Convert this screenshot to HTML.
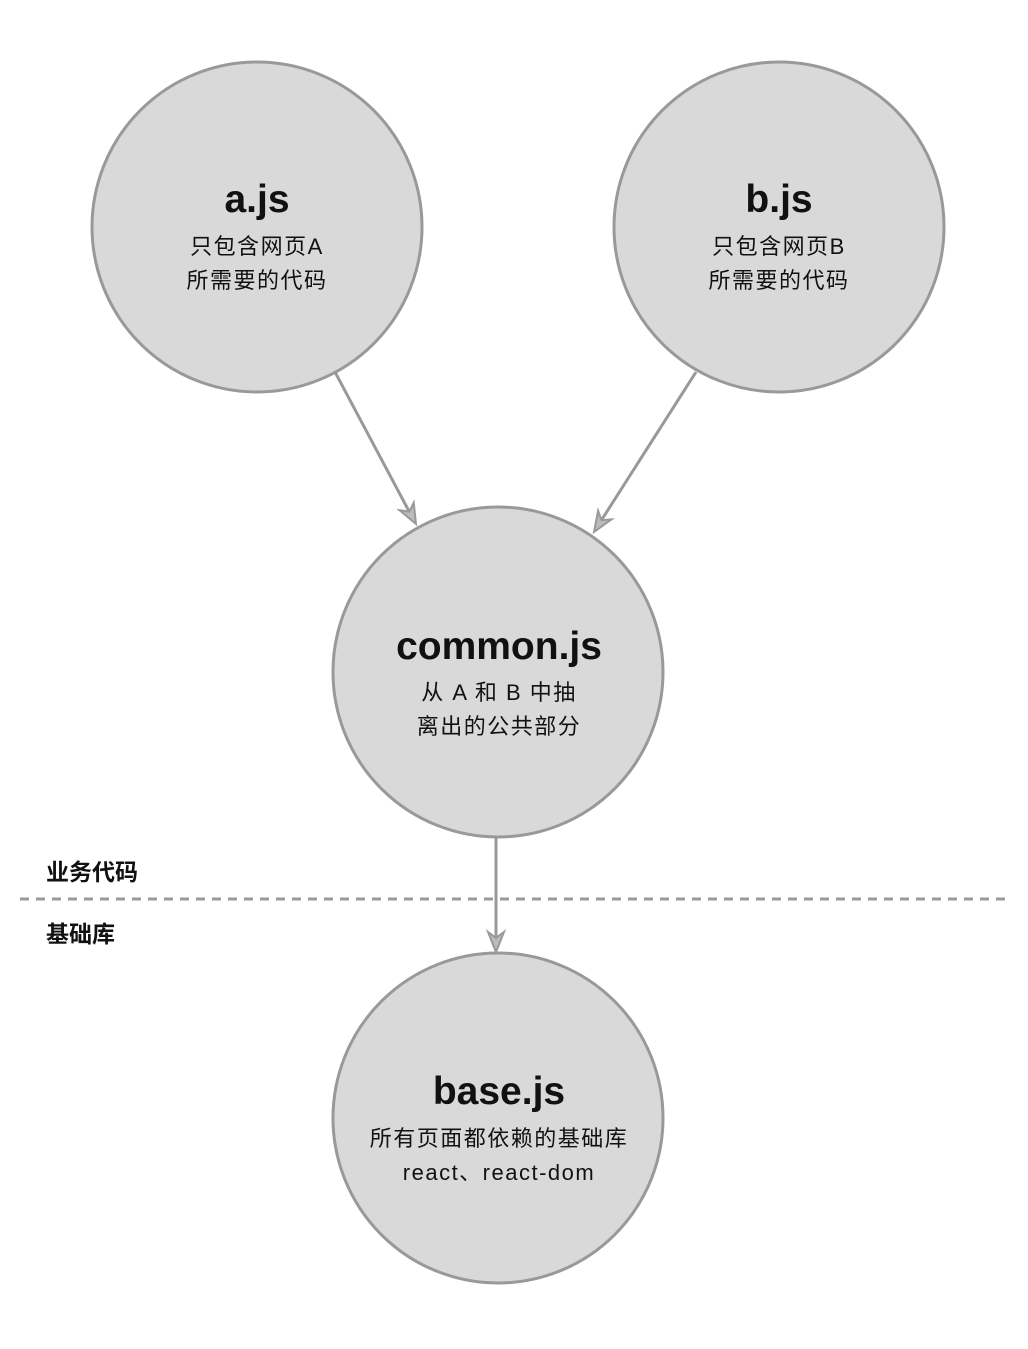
<!DOCTYPE html>
<html><head><meta charset="utf-8"><style>
html,body{margin:0;padding:0;background:#fff;}
svg text{font-family:"Liberation Sans","Noto Sans CJK SC",sans-serif;fill:#111;}
</style></head><body>
<svg width="1028" height="1344" viewBox="0 0 1028 1344" xmlns="http://www.w3.org/2000/svg">
<g fill="#d9d9d9" stroke="#999" stroke-width="3">
<circle cx="257" cy="227" r="165"/>
<circle cx="779" cy="227" r="165"/>
<circle cx="498" cy="672" r="165"/>
<circle cx="498" cy="1118" r="165"/>
</g>
<g stroke="#999" stroke-width="3" fill="none">
<line x1="335" y1="372" x2="411" y2="515"/>
<line x1="696" y1="372" x2="599" y2="524"/>
<line x1="496" y1="838" x2="496" y2="942"/>
<line x1="20" y1="899" x2="1010" y2="899" stroke-dasharray="9,7"/>
</g>
<g fill="#bbb" stroke="#999" stroke-width="2" stroke-linejoin="miter">
<polygon points="416,524 399.5,510.2 409.4,511.6 413.7,502.6"/>
<polygon points="594,532 611.5,519.4 601.5,520.2 598.1,510.8"/>
<polygon points="496,952 504,932 496,938 488,932"/>
</g>
<g text-anchor="middle">
<text x="257" y="212" font-size="39" font-weight="bold">a.js</text>
<text x="257" y="254" font-size="22" letter-spacing="1.5">只包含网页A</text>
<text x="257" y="288" font-size="22" letter-spacing="1.5">所需要的代码</text>
<text x="779" y="212" font-size="39" font-weight="bold">b.js</text>
<text x="779" y="254" font-size="22" letter-spacing="1.5">只包含网页B</text>
<text x="779" y="288" font-size="22" letter-spacing="1.5">所需要的代码</text>
<text x="499" y="659" font-size="39" font-weight="bold">common.js</text>
<text x="499" y="700" font-size="22" letter-spacing="1.5">从 A 和 B 中抽</text>
<text x="499" y="734" font-size="22" letter-spacing="1.5">离出的公共部分</text>
<text x="499" y="1104" font-size="39" font-weight="bold">base.js</text>
<text x="499" y="1146" font-size="22" letter-spacing="1.5">所有页面都依赖的基础库</text>
<text x="499" y="1180" font-size="22" letter-spacing="1.5">react、react-dom</text>
</g>
<text x="46" y="880" font-size="23" font-weight="bold">业务代码</text>
<text x="46" y="942" font-size="23" font-weight="bold">基础库</text>
</svg>
</body></html>
